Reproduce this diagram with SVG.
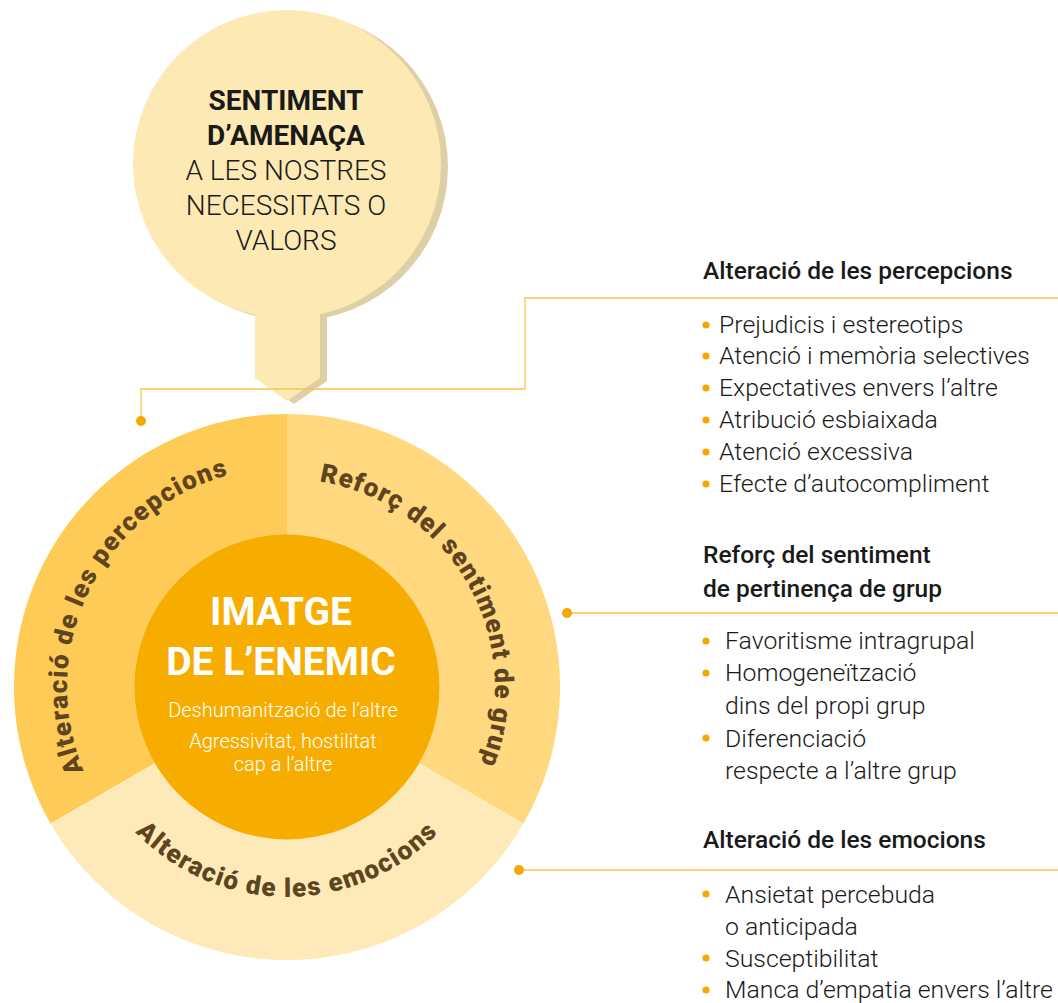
<svg xmlns="http://www.w3.org/2000/svg" width="1058" height="1003" viewBox="0 0 1058 1003">
<style>
.ring{font-family:Roboto,"Liberation Sans",sans-serif;font-weight:900;font-size:26px;fill:#5e4520;letter-spacing:1.4px}
.head{font-family:Roboto,"Liberation Sans",sans-serif;font-weight:500;font-size:24.5px;fill:#1a1a1a}
.item{font-family:Roboto,"Liberation Sans",sans-serif;font-weight:300;font-size:24.8px;fill:#1a1a1a}
.bul{fill:#f5a800}
.top{font-family:Roboto,"Liberation Sans",sans-serif;font-size:28px;fill:#1a1a1a;text-anchor:middle}
.ctr{font-family:Roboto,"Liberation Sans",sans-serif;fill:#ffffff;text-anchor:middle}
.conn{fill:none;stroke:#f9c54e;stroke-width:1.3}
.dot{fill:#f5a800}
</style>
<defs>
<path id="pLeft" d="M104.25,809.4 A220,220 0 0 1 272.42,467.5"/>
<path id="pRight" d="M294.26,479.13 A208,208 0 0 1 469.5,786.5"/>
<path id="pBottom" d="M89.7,758.8 A210,210 0 0 0 484.3,758.8"/>
</defs>
<rect width="1058" height="1003" fill="#ffffff"/>

<g id="node-amenaca">
<g fill="#ddd0a6" transform="translate(7,3)">
<circle cx="287" cy="164" r="154"/>
<path d="M255,290 H320 V378 L287,401 L255,378 Z"/>
</g>
<circle cx="287" cy="164" r="154" fill="#fde9b4"/>
<path d="M255,290 H320 V378 L287,401 L255,378 Z" fill="#fde9b4"/>
<text class="top" x="286" y="110" font-weight="700">SENTIMENT</text>
<text class="top" x="286" y="145" font-weight="700">D’AMENAÇA</text>
<text class="top" x="286" y="180" font-weight="300">A LES NOSTRES</text>
<text class="top" x="286" y="215" font-weight="300">NECESSITATS O</text>
<text class="top" x="286" y="250" font-weight="300">VALORS</text>
</g>

<g id="node-ring">
<path id="sec-percepcions" d="M287,687 L287,414 A273,273 0 0 0 50.58,823.5 Z" fill="#fecb57"/>
<path id="sec-grup" d="M287,687 L287,414 A273,273 0 0 1 523.42,823.5 Z" fill="#ffd87f"/>
<path id="sec-emocions" d="M287,687 L50.58,823.5 A273,273 0 0 0 523.42,823.5 Z" fill="#feeab9"/>
<text class="ring"><textPath href="#pLeft" startOffset="50%" text-anchor="middle">Alteració de les percepcions</textPath></text>
<text class="ring" style="letter-spacing:1.1px"><textPath href="#pRight" startOffset="50%" text-anchor="middle">Reforç del sentiment de grup</textPath></text>
<text class="ring"><textPath href="#pBottom" startOffset="50%" text-anchor="middle">Alteració de les emocions</textPath></text>
</g>

<g id="node-enemic">
<circle cx="287" cy="687" r="152.5" fill="#f7ad00"/>
<text class="ctr" x="281" y="625" font-size="39" font-weight="700">IMATGE</text>
<text class="ctr" x="281" y="675" font-size="39" font-weight="700">DE L’ENEMIC</text>
<text class="ctr" x="283" y="717" font-size="20" font-weight="300">Deshumanització de l’altre</text>
<text class="ctr" x="283" y="748" font-size="20" font-weight="300">Agressivitat, hostilitat</text>
<text class="ctr" x="283" y="771" font-size="20" font-weight="300">cap a l’altre</text>
</g>

<g id="node-list-percepcions">
<text class="head" x="703" y="279">Alteració de les percepcions</text>
<circle class="bul" cx="706" cy="325" r="3.6"/>
<circle class="bul" cx="706" cy="356" r="3.6"/>
<circle class="bul" cx="706" cy="388" r="3.6"/>
<circle class="bul" cx="706" cy="420" r="3.6"/>
<circle class="bul" cx="706" cy="452" r="3.6"/>
<circle class="bul" cx="706" cy="484" r="3.6"/>
<text class="item" x="719" y="333">Prejudicis i estereotips</text>
<text class="item" x="719" y="364">Atenció i memòria selectives</text>
<text class="item" x="719" y="396">Expectatives envers l’altre</text>
<text class="item" x="719" y="428">Atribució esbiaixada</text>
<text class="item" x="719" y="460">Atenció excessiva</text>
<text class="item" x="719" y="492">Efecte d’autocompliment</text>
</g>

<g id="node-list-grup">
<text class="head" x="703" y="563">Reforç del sentiment</text>
<text class="head" x="703" y="597">de pertinença de grup</text>
<circle class="bul" cx="706" cy="641" r="3.6"/>
<circle class="bul" cx="706" cy="673" r="3.6"/>
<circle class="bul" cx="706" cy="738" r="3.6"/>
<text class="item" x="725" y="649">Favoritisme intragrupal</text>
<text class="item" x="725" y="681">Homogeneïtzació</text>
<text class="item" x="725" y="714">dins del propi grup</text>
<text class="item" x="725" y="747">Diferenciació</text>
<text class="item" x="725" y="779">respecte a l’altre grup</text>
</g>

<g id="node-list-emocions">
<text class="head" x="703" y="848">Alteració de les emocions</text>
<circle class="bul" cx="706" cy="894" r="3.6"/>
<circle class="bul" cx="706" cy="958" r="3.6"/>
<circle class="bul" cx="706" cy="990" r="3.6"/>
<text class="item" x="725" y="903">Ansietat percebuda</text>
<text class="item" x="725" y="935">o anticipada</text>
<text class="item" x="725" y="967">Susceptibilitat</text>
<text class="item" x="725" y="998">Manca d’empatia envers l’altre</text>
</g>

<g id="connectors">
<path class="conn" d="M141,421 V389 H525 V298 H1058"/>
<path class="conn" d="M567,613 H1058"/>
<path class="conn" d="M519,870 H1058"/>
<circle class="dot" cx="141" cy="421" r="5"/>
<circle class="dot" cx="567" cy="613" r="5"/>
<circle class="dot" cx="519" cy="870" r="5"/>
</g>
</svg>
